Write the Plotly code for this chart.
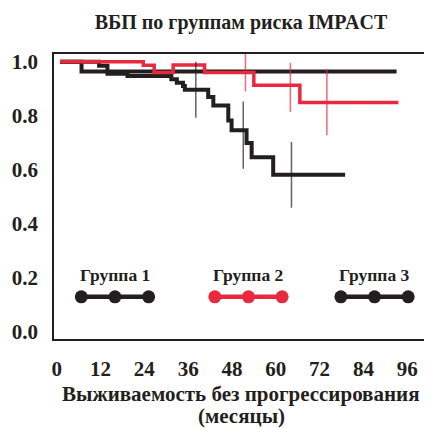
import plotly.graph_objects as go

# ---- data ----
g1_time = [0.9, 11.6, 13.9, 19.4, 31.4, 32.9, 34.6, 35.1, 41.5, 42.9, 47.0, 47.9, 52.0, 53.4, 59.3, 79.0]
g1_surv = [1.0, 0.985, 0.955, 0.947, 0.935, 0.922, 0.91, 0.896, 0.869, 0.838, 0.782, 0.746, 0.699, 0.646, 0.581, 0.581]

g2_time = [0.9, 23.7, 26.7, 31.9, 40.5, 54.0, 66.6, 93.6]
g2_surv = [1.0, 0.987, 0.96, 0.988, 0.96, 0.913, 0.849, 0.849]

g3_time = [0.9, 6.8, 93.1]
g3_surv = [1.0, 0.964, 0.964]

g1_cens_time = [38.1, 51.1, 64.3]
g1_cens_surv = [0.896, 0.728, 0.581]
g2_cens_time = [51.7, 64.0, 74.0]
g2_cens_surv = [0.96, 0.905, 0.849]

x_ticks = [0, 12, 24, 36, 48, 60, 72, 84, 96]
y_ticks = [0.0, 0.2, 0.4, 0.6, 0.8, 1.0]
y_tick_text = ["0.0", "0.2", "0.4", "0.6", "0.8", "1.0"]

group_names = ["Группа 1", "Группа 2", "Группа 3"]

title_text = "ВБП по группам риска IMPACT"
x_title_lines = ["Выживаемость без прогрессирования", "(месяцы)"]

# ---- styles ----
BLACK = "#231f20"
RED = "#e8293f"
FONT = "Liberation Serif"
group_colors = [BLACK, RED, BLACK]
g1_cens_size = [40, 48, 47]
g2_cens_size = [27, 35, 47]
legend_centers = [0.163, 0.52, 0.857]
legend_dot_offset = 0.09
legend_dot_y = 0.148
legend_text_y = 0.225
x_title_y = [-0.192, -0.271]

# the page body has an 8px margin, so the figure is 8px smaller each way
FIG_W, FIG_H = 424, 420

fig = go.Figure()

fig.add_trace(go.Scatter(x=g3_time, y=g3_surv, mode="lines", line=dict(color=BLACK, width=4, shape="hv"),
                         showlegend=False, hoverinfo="skip"))
fig.add_trace(go.Scatter(x=g1_time, y=g1_surv, mode="lines", line=dict(color=BLACK, width=4, shape="hv"),
                         showlegend=False, hoverinfo="skip"))
fig.add_trace(go.Scatter(x=g2_time, y=g2_surv, mode="lines", line=dict(color=RED, width=3.5, shape="hv"),
                         showlegend=False, hoverinfo="skip"))

fig.add_trace(go.Scatter(x=g1_cens_time, y=g1_cens_surv, mode="markers",
                         marker=dict(symbol="line-ns", size=g1_cens_size, line=dict(color=BLACK, width=1.5)),
                         showlegend=False, hoverinfo="skip"))
fig.add_trace(go.Scatter(x=g2_cens_time, y=g2_cens_surv, mode="markers",
                         marker=dict(symbol="line-ns", size=g2_cens_size, line=dict(color=RED, width=1.5)),
                         showlegend=False, hoverinfo="skip"))

# custom legend (text above three joined dots)
annotations = []
for name, cx, col in zip(group_names, legend_centers, group_colors):
    xs = [cx - legend_dot_offset, cx, cx + legend_dot_offset]
    fig.add_trace(go.Scatter(x=xs, y=[legend_dot_y] * 3, xaxis="x2", yaxis="y2", mode="lines+markers",
                             line=dict(color=col, width=4.5), marker=dict(color=col, size=13),
                             showlegend=False, hoverinfo="skip"))
    annotations.append(dict(text=name, x=cx, y=legend_text_y, xref="paper", yref="paper",
                            showarrow=False, xanchor="center", yanchor="middle",
                            font=dict(family=FONT, size=17.5, color=BLACK, weight="bold")))

for line, ty in zip(x_title_lines, x_title_y):
    annotations.append(dict(text=line, x=0.5, y=ty, xref="paper", yref="paper",
                            showarrow=False, xanchor="center", yanchor="middle",
                            font=dict(family=FONT, size=21, color=BLACK, weight="bold")))

fig.update_layout(
    width=FIG_W, height=FIG_H,
    margin=dict(l=46, r=4, t=46, b=89),
    paper_bgcolor="white", plot_bgcolor="white",
    title=dict(text=title_text, x=0.5, xref="paper", xanchor="center", y=1 - 13.7 / FIG_H, yref="container",
               yanchor="middle", font=dict(family=FONT, size=20, color=BLACK, weight="bold")),
    xaxis=dict(range=[-0.74, 101.7], tickvals=x_ticks, ticktext=[str(v) for v in x_ticks],
               showgrid=False, zeroline=False, showline=True, mirror=True, linecolor=BLACK, linewidth=1.5,
               ticks="", ticklabelstandoff=10, automargin=False,
               tickfont=dict(family=FONT, size=21, color=BLACK, weight="bold")),
    yaxis=dict(range=[-0.027, 1.0285], tickvals=y_ticks, ticktext=y_tick_text,
               showgrid=False, zeroline=False, showline=True, mirror=True, linecolor=BLACK, linewidth=1.5,
               ticks="", ticklabelstandoff=10, automargin=False,
               tickfont=dict(family=FONT, size=21, color=BLACK, weight="bold")),
    xaxis2=dict(overlaying="x", range=[0, 1], visible=False),
    yaxis2=dict(overlaying="y", range=[0, 1], visible=False),
    annotations=annotations,
    showlegend=False,
)

fig.write_html("out.html")
